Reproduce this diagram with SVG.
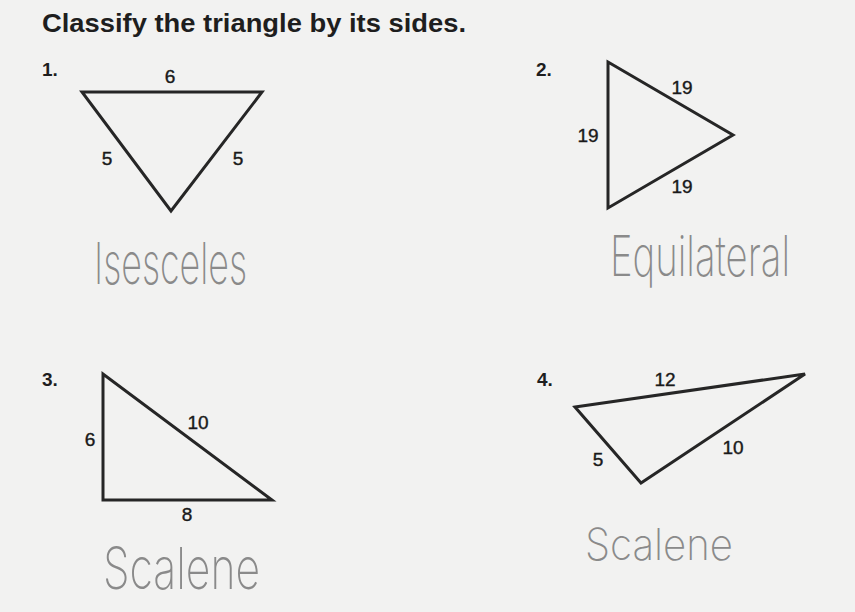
<svg xmlns="http://www.w3.org/2000/svg" width="855" height="612" viewBox="0 0 855 612">
  <style>
    .title { font-family: "Liberation Sans", Arial, sans-serif; font-weight: bold; font-size: 25px; fill: #1e1e1e; }
    .num { font-family: "Liberation Sans", Arial, sans-serif; font-weight: bold; font-size: 19px; fill: #1e1e1e; }
    .lbl { font-family: "Liberation Sans", Arial, sans-serif; font-size: 19px; fill: #1a1a1a; stroke: #1a1a1a; stroke-width: 0.4; text-anchor: middle; }
    .tri { fill: none; stroke: #262626; stroke-width: 3; stroke-linejoin: miter; }
    .hand { font-family: Inter, "DejaVu Sans", sans-serif; font-weight: 200; fill: #8a8a8a; }
  </style>
  <rect x="0" y="0" width="855" height="612" fill="#f2f2f1"/>
  <text class="title" x="42" y="32" textLength="424" lengthAdjust="spacingAndGlyphs">Classify the triangle by its sides.</text>

  <g id="problem-1">
    <text class="num" x="42" y="76">1.</text>
    <polygon class="tri" points="82,92 262,92 171,211"/>
    <text class="lbl" x="170" y="83">6</text>
    <text class="lbl" x="107" y="165">5</text>
    <text class="lbl" x="238" y="165">5</text>
    <text class="hand" transform="translate(94,284) scale(1,1.65)" x="0" y="0" font-size="35" textLength="153" lengthAdjust="spacingAndGlyphs">Isesceles</text>
  </g>

  <g id="problem-2">
    <text class="num" x="536" y="76">2.</text>
    <polygon class="tri" points="608,62 733,135 608,208"/>
    <text class="lbl" x="682" y="94">19</text>
    <text class="lbl" x="588" y="142">19</text>
    <text class="lbl" x="682" y="193">19</text>
    <text class="hand" transform="translate(610,276) scale(1,1.7)" x="0" y="0" font-size="33" textLength="180" lengthAdjust="spacingAndGlyphs">Equilateral</text>
  </g>

  <g id="problem-3">
    <text class="num" x="42" y="386">3.</text>
    <polygon class="tri" points="103,374 103,500 272,500"/>
    <text class="lbl" x="90" y="446">6</text>
    <text class="lbl" x="198" y="429">10</text>
    <text class="lbl" x="187" y="521">8</text>
    <text class="hand" transform="translate(103,589) scale(1,1.45)" x="0" y="0" font-size="40" textLength="157" lengthAdjust="spacingAndGlyphs">Scalene</text>
  </g>

  <g id="problem-4">
    <text class="num" x="537" y="386">4.</text>
    <polygon class="tri" points="575,407 805,374 641,483"/>
    <text class="lbl" x="665" y="386">12</text>
    <text class="lbl" x="733" y="454">10</text>
    <text class="lbl" x="598" y="466">5</text>
    <text class="hand" transform="translate(585,560) scale(1,1.16)" x="0" y="0" font-size="38" textLength="148" lengthAdjust="spacingAndGlyphs">Scalene</text>
  </g>

  <g id="connectors"/>
</svg>
